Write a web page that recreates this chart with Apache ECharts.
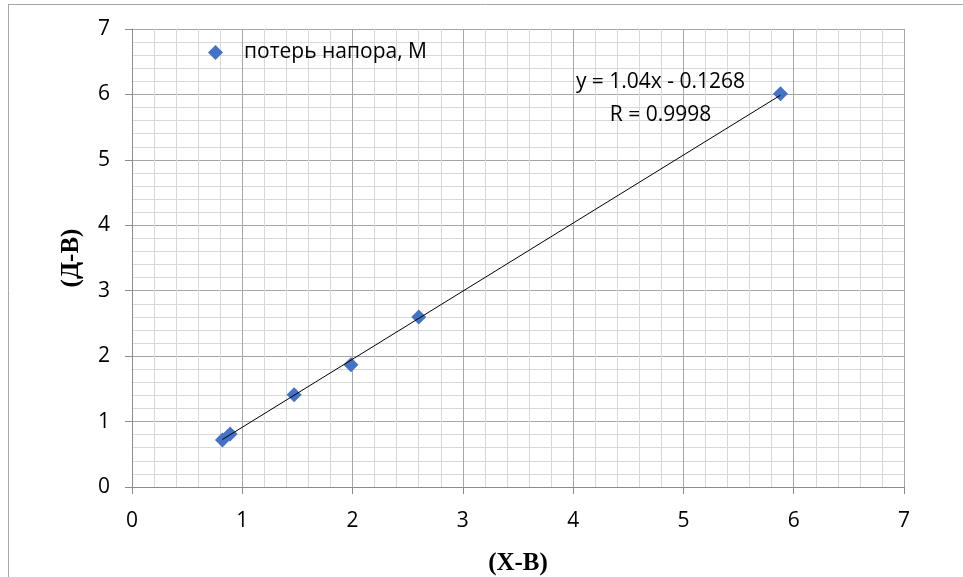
<!DOCTYPE html>
<html>
<head>
<meta charset="utf-8">
<script src="https://cdn.jsdelivr.net/npm/echarts@6/dist/echarts.min.js"></script>
<style>
html,body{margin:0;padding:0;background:#fff;}
#chart{width:963px;height:577px;}
</style>
</head>
<body>
<div id="chart"></div>
<script>
// Measured points: (X-B) vs (Д-В)
const xValues = [0.82, 0.89, 1.47, 1.985, 2.60, 5.88];
const yValues = [0.72, 0.81, 1.41, 1.87, 2.60, 6.01];
const seriesName = 'потерь напора, М';
// Linear trend parameters
const trendSlope = 1.04;
const trendIntercept = -0.1268;
const trendLabel = ['y = 1.04x - 0.1268', 'R = 0.9998'];
const axisTicks = [0, 1, 2, 3, 4, 5, 6, 7];

const points = xValues.map((x, i) => [x, yValues[i]]);
const xMin = Math.min(...xValues), xMax = Math.max(...xValues);
const trend = [xMin, xMax].map(x => [x, trendSlope * x + trendIntercept]);

const tickFont = {fontFamily: 'Open Sans', fontSize: 21, color: '#000'};
const titleFont = {fontFamily: 'Liberation Serif', fontSize: 25, fontWeight: 'bold', color: '#000'};

function valueAxis(name, isX) {
  return {
    type: 'value',
    min: axisTicks[0],
    max: axisTicks[axisTicks.length - 1],
    interval: 1,
    name: name,
    nameLocation: 'middle',
    nameGap: isX ? 64 : 48,
    nameTextStyle: titleFont,
    axisLine: {show: true, lineStyle: {color: '#8c8c8c', width: 1}},
    axisTick: {show: true, length: 7, lineStyle: {color: '#8c8c8c'}},
    axisLabel: Object.assign({margin: isX ? 24 : 22}, tickFont),
    splitLine: {show: true, lineStyle: {color: '#a6a6a6', width: 1}},
    minorTick: {show: false, splitNumber: 5},
    minorSplitLine: {show: true, lineStyle: {color: '#d9d9d9', width: 1}}
  };
}

const chart = echarts.init(document.getElementById('chart'), null, {renderer: 'canvas'});
chart.setOption({
  animation: false,
  backgroundColor: '#fff',
  grid: {left: 132, right: 59, top: 29, bottom: 90, containLabel: false, outerBoundsMode: 'none'},
  xAxis: valueAxis('(Х-В)', true),
  yAxis: valueAxis('(Д-В)', false),
  legend: {
    show: true,
    left: 203, top: 37,
    itemWidth: 15, itemHeight: 15, itemGap: 10,
    textStyle: {fontFamily: 'Open Sans', fontSize: 21, color: '#000', padding: [0, 0, 0, 16]},
    data: [{name: seriesName, icon: 'diamond', itemStyle: {color: '#4472C4', opacity: 1}}]
  },
  graphic: [
    {type: 'line', shape: {x1: 8, y1: 4.5, x2: 963, y2: 4.5}, style: {stroke: '#a6a6a6', lineWidth: 1}},
    {type: 'line', shape: {x1: 8.5, y1: 4, x2: 8.5, y2: 577}, style: {stroke: '#a6a6a6', lineWidth: 1}}
  ],
  series: [
    {
      name: 'trend',
      type: 'line',
      data: trend,
      symbol: 'none',
      lineStyle: {color: '#000', width: 1},
      z: 3,
      // trend equation, drawn as a line-end label at the upper end of the fit
      endLabel: {
        show: true,
        formatter: trendLabel.join('\n'),
        fontFamily: 'Open Sans',
        fontSize: 21,
        lineHeight: 33,
        color: '#000',
        align: 'center',
        textBorderWidth: 0,
        offset: [-128, 3]
      }
    },
    {
      name: seriesName,
      type: 'scatter',
      data: points,
      symbol: 'diamond',
      symbolSize: 15,
      itemStyle: {color: '#4472C4', opacity: 1},
      z: 2
    }
  ]
});
</script>
</body>
</html>
